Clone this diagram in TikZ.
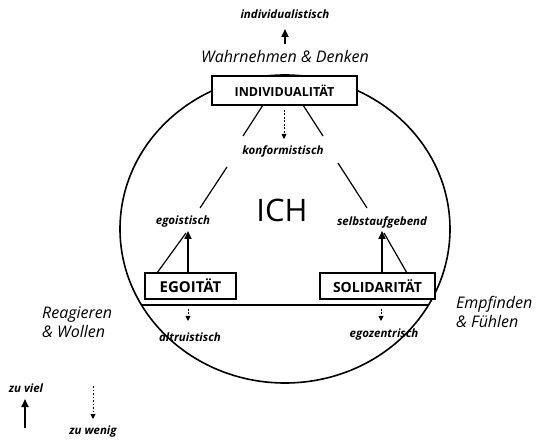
\documentclass[tikz,border=0pt]{standalone}
\usepackage{fontspec}
\setmainfont{Open Sans}
\usetikzlibrary{arrows.meta}
\begin{document}
\begin{tikzpicture}[x=1pt,y=-1pt,
 lbl/.style={font=\fontsize{11.5}{12}\selectfont\bfseries\itshape, inner sep=0pt},
 dom/.style={font=\fontsize{16}{19}\selectfont\itshape, inner sep=0pt, align=left},
 box/.style={draw, line width=1.3pt, fill=white, inner sep=0pt},
 ln/.style={line width=1.2pt},
 up/.style={line width=1.8pt, -{Triangle[length=8pt,width=7pt]}},
 dn/.style={line width=0.9pt, dash pattern=on 2pt off 1.5pt, -{Triangle[length=5pt,width=5pt]}},
]
\useasboundingbox (0,0) rectangle (539,441);
\fill[white] (0,0) rectangle (539,441);

% big circle
\draw[line width=1.6pt] (285,229) ellipse [x radius=165, y radius=154];
\coordinate (chL) at (142,305);
\coordinate (chR) at (428,305);
\draw[line width=1.8pt] (chL) -- (chR);

% boxes
\node[box, minimum width=145pt, minimum height=29pt, font=\fontsize{12.5}{14}\selectfont\bfseries] (ind) at (284.5,90.5) {INDIVIDUALITÄT};
\node[box, minimum width=91pt, minimum height=26pt, font=\fontsize{15}{16}\selectfont\bfseries] (ego) at (190.5,286) {EGOITÄT};
\node[box, minimum width=115pt, minimum height=26pt, font=\fontsize{14}{16}\selectfont\bfseries] (sol) at (377.5,286) {SOLIDARITÄT};

% top labels
\node[lbl] (indiv) at (285,14) {individualistisch};
\node[dom] (wd) at (285,57) {Wahrnehmen \& Denken};
\coordinate (a1) at (285,44);
\coordinate (a2) at (285,29);
\draw[up] (a1) -- (a2);

% konformistisch
\node[lbl] (konf) at (283,151) {konformistisch};
\coordinate (l1a) at (263,105); \coordinate (l1b) at (243,136);
\coordinate (r1a) at (303,105); \coordinate (r1b) at (323,136);
\draw[ln] (l1a) -- (l1b);
\draw[ln] (r1a) -- (r1b);
\coordinate (k1) at (284,110); \coordinate (k2) at (284,139);
\draw[dn] (k1) -- (k2);

\coordinate (l2a) at (227,167); \coordinate (l2b) at (200,208);
\coordinate (r2a) at (338,163); \coordinate (r2b) at (367,208);
\draw[ln] (l2a) -- (l2b);
\draw[ln] (r2a) -- (r2b);

% ICH
\node[inner sep=0pt, font=\fontsize{31}{34}\selectfont] (ich) at (282,210) {ICH};

% egoistisch / selbstaufgebend
\node[lbl] (egst) at (183,222) {egoistisch};
\node[lbl] (slb) at (382,222) {selbstaufgebend};
\coordinate (e1) at (188,273); \coordinate (e2) at (188,231);
\draw[up] (e1) -- (e2);
\coordinate (e3) at (157,273); \coordinate (e4) at (186,233);
\draw[ln] (e3) -- (e4);
\coordinate (s1) at (382,273); \coordinate (s2) at (382,231);
\draw[up] (s1) -- (s2);
\coordinate (s3) at (407,273); \coordinate (s4) at (384,233);
\draw[ln] (s3) -- (s4);

% below chord
\coordinate (b1) at (188,309); \coordinate (b2) at (188,321);
\draw[dn] (b1) -- (b2);
\coordinate (b3) at (381,309); \coordinate (b4) at (381,321);
\draw[dn] (b3) -- (b4);
\node[lbl] (alt) at (190,337) {altruistisch};
\node[lbl] (egz) at (384,335) {egozentrisch};

% side labels
\node[dom, anchor=west] (rw) at (42,322) {Reagieren\\\& Wollen};
\node[dom, anchor=west] (ef) at (456,312) {Empfinden\\\& Fühlen};

% legend
\node[lbl] (zv) at (26,388) {zu viel};
\coordinate (z1) at (25,428); \coordinate (z2) at (25,399);
\draw[up] (z1) -- (z2);
\coordinate (w1) at (93,386); \coordinate (w2) at (93,419);
\draw[dn, dash pattern=on 1.5pt off 2pt] (w1) -- (w2);
\node[lbl] (zw) at (93,432) {zu wenig};
\end{tikzpicture}
\end{document}
